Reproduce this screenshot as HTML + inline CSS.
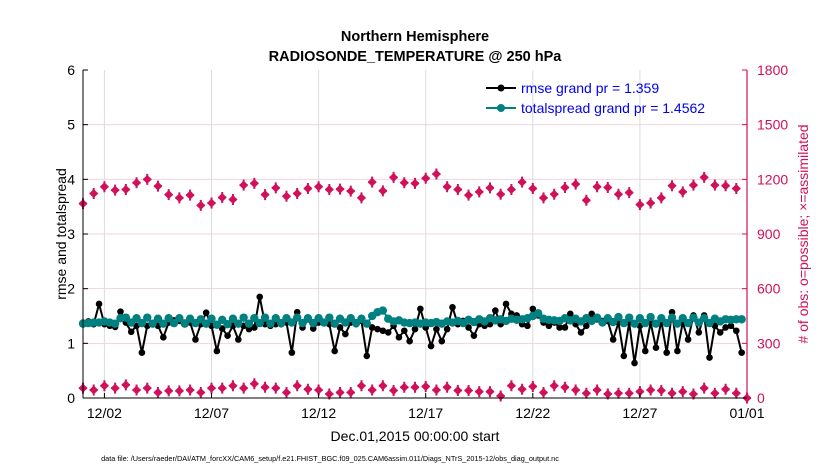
<!DOCTYPE html>
<html><head><meta charset="utf-8"><style>
body{margin:0;background:#fff;}
svg text{font-family:"Liberation Sans",Arial,sans-serif;}
</style></head><body>
<svg id="chart" width="830" height="470" xmlns="http://www.w3.org/2000/svg">
<rect width="830" height="470" fill="#fff"/>
<g id="grid"></g>
<g id="series"></g>
<g id="axes"></g>
<text x="415" y="41" text-anchor="middle" font-size="14.5" font-weight="bold">Northern Hemisphere</text>
<text x="415" y="61" text-anchor="middle" font-size="14.5" font-weight="bold">RADIOSONDE_TEMPERATURE @ 250 hPa</text>
<text x="415" y="441" text-anchor="middle" font-size="14">Dec.01,2015 00:00:00 start</text>
<text x="330" y="461" text-anchor="middle" font-size="7.3">data file: /Users/raeder/DAI/ATM_forcXX/CAM6_setup/f.e21.FHIST_BGC.f09_025.CAM6assim.011/Diags_NTrS_2015-12/obs_diag_output.nc</text>
<text transform="translate(66,234) rotate(-90)" text-anchor="middle" font-size="14">rmse and totalspread</text>
<text transform="translate(808,234) rotate(-90)" text-anchor="middle" font-size="14" fill="#d0105a"># of obs: o=possible; ×=assimilated</text>
<g id="legend">
<line x1="486" y1="88" x2="516" y2="88" stroke="#000" stroke-width="2"/>
<circle cx="501" cy="88" r="3.5" fill="#000"/>
<text x="521" y="93" font-size="14" fill="#0000ee">rmse grand pr = 1.359</text>
<line x1="486" y1="108" x2="516" y2="108" stroke="#008080" stroke-width="2"/>
<circle cx="501" cy="108" r="4" fill="#008080"/>
<text x="521" y="113" font-size="14" fill="#0000ee">totalspread grand pr = 1.4562</text>
</g>
</svg>
<script>
const xTickLabels=["12/02","12/07","12/12","12/17","12/22","12/27","01/01"];
const xTickDays=[1,6,11,16,21,26,31];
const leftTicks=[0,1,2,3,4,5,6];
const rightTicks=[0,300,600,900,1200,1500,1800];
const rmse=[1.38,1.40,1.35,1.72,1.35,1.32,1.30,1.58,1.38,1.21,1.32,0.83,1.32,1.35,1.32,1.11,1.38,1.42,1.41,1.38,1.38,1.07,1.35,1.56,1.32,0.86,1.27,1.14,1.32,1.07,
1.32,1.26,1.29,1.85,1.35,1.32,1.35,1.35,1.38,0.83,1.57,1.29,1.44,1.27,1.38,1.38,1.35,0.86,1.29,1.17,1.38,1.35,1.41,0.77,1.29,1.26,1.23,1.20,1.32,1.11,1.23,
1.04,1.26,1.63,1.29,0.95,1.26,1.04,1.26,1.66,1.35,1.41,1.29,1.14,1.35,1.32,1.35,1.60,1.35,1.72,1.54,1.51,1.35,1.32,1.63,1.51,1.38,1.32,1.38,1.29,1.29,1.54,1.35,
1.20,1.32,1.54,1.44,1.41,1.41,1.07,1.38,0.77,1.38,0.64,1.32,0.86,1.38,0.92,1.41,0.83,1.57,0.86,1.38,1.07,1.51,1.20,1.51,0.74,1.32,1.20,1.29,1.32,1.23,0.83];
const spread=[1.36,1.37,1.38,1.38,1.40,1.38,1.36,1.46,1.47,1.38,1.46,1.37,1.47,1.36,1.45,1.36,1.46,1.37,1.46,1.36,1.45,1.37,1.44,1.36,1.45,1.34,1.43,1.35,1.45,1.36,
1.47,1.36,1.46,1.37,1.47,1.36,1.46,1.37,1.46,1.38,1.47,1.37,1.46,1.37,1.46,1.38,1.47,1.36,1.45,1.38,1.46,1.37,1.45,1.36,1.50,1.57,1.60,1.45,1.40,1.42,1.38,
1.37,1.38,1.36,1.38,1.37,1.39,1.36,1.40,1.38,1.41,1.37,1.43,1.39,1.44,1.40,1.46,1.42,1.44,1.41,1.45,1.43,1.44,1.46,1.50,1.55,1.45,1.43,1.42,1.41,1.46,1.42,
1.45,1.40,1.46,1.41,1.47,1.38,1.46,1.39,1.48,1.37,1.47,1.36,1.46,1.37,1.48,1.36,1.46,1.37,1.47,1.36,1.46,1.37,1.47,1.38,1.46,1.37,1.45,1.40,1.44,1.43,1.44,1.44];
const possible=[1067,1122,1159,1141,1144,1181,1200,1163,1116,1098,1113,1057,1070,1100,1089,1168,1178,1116,1153,1107,1122,1150,1159,1144,1146,1135,1098,1185,1137,1211,1181,1178,
1206,1229,1159,1144,1113,1131,1153,1118,1144,1185,1150,1098,1118,1155,1174,1085,1159,1155,1118,1127,1061,1070,1098,1165,1131,1168,1211,1168,1165,1150];
const assimilated=[54,44,67,54,72,44,54,30,39,39,44,30,54,54,67,54,78,59,54,30,67,48,
44,22,30,30,67,44,67,41,59,59,63,44,59,41,41,35,35,11,67,48,63,
30,67,59,44,26,44,22,26,26,35,44,41,26,35,22,54,26,48,26,0];

const X0=83,X1=747,DAYS=31,Y0=398,Y1=70;
function xs(d){return X0+(d/DAYS)*(X1-X0);}
function yl(v){return Y0-(v/6)*(Y0-Y1);}
function yr(v){return Y0-(v/1800)*(Y0-Y1);}
const NS="http://www.w3.org/2000/svg";
function mk(tag,attrs,parent){const e=document.createElementNS(NS,tag);for(const k in attrs)e.setAttribute(k,attrs[k]);parent.appendChild(e);return e;}
const grid=document.getElementById('grid'),ser=document.getElementById('series'),ax=document.getElementById('axes');
const PINK="#d0105a";
leftTicks.forEach((v,i)=>{
  if(v>0&&v<6){const l=mk('line',{x1:X0,x2:X1,y1:yl(v),y2:yl(v),stroke:'#f3d2de','stroke-width':1},grid);
  
  }
  const t=mk('text',{x:X0-8,y:yl(v)+5,'text-anchor':'end','font-size':14},ax);t.textContent=v;
  
  
  mk('line',{x1:X0,x2:X0+5,y1:yl(v),y2:yl(v),stroke:'#000'},ax);
});
rightTicks.forEach(v=>{
  const t=mk('text',{x:X1+10,y:yr(v)+5,'font-size':14,fill:PINK},ax);t.textContent=v;
  
  
  mk('line',{x1:X1-5,x2:X1,y1:yr(v),y2:yr(v),stroke:PINK},ax);
});
xTickDays.forEach((d,i)=>{
  if(d<31){const l=mk('line',{x1:xs(d),x2:xs(d),y1:Y1,y2:Y0,stroke:'#dcdcdc','stroke-width':1},grid);
  
  }
  mk('line',{x1:xs(d),x2:xs(d),y1:Y0,y2:Y0-5,stroke:'#000'},ax);
  const t=mk('text',{x:xs(d),y:Y0+20,'text-anchor':'middle','font-size':14},ax);t.textContent=xTickLabels[i];
  
  
});
mk('line',{x1:X0,x2:X0,y1:Y1,y2:Y0,stroke:'#000','stroke-width':1},ax);
mk('line',{x1:X0,x2:X1,y1:Y0,y2:Y0,stroke:'#000','stroke-width':1},ax);
mk('line',{x1:X1,x2:X1,y1:Y1,y2:Y0,stroke:PINK,'stroke-width':1.2},ax);

function diamond(cx,cy,g){
  const p=mk('path',{d:`M${cx} ${cy-4.5}L${cx+4.5} ${cy}L${cx} ${cy+4.5}L${cx-4.5} ${cy}Z`,fill:PINK},g);
  mk('path',{d:`M${cx-4} ${cy}H${cx+4}M${cx} ${cy-5.5}V${cy+5.5}`,stroke:PINK,'stroke-width':2},g);
  return p;
}
const gp=mk('g',{},ser);


possible.forEach((v,i)=>{const p=diamond(xs(i*0.5),yr(v),gp);
  
  });
const ga=mk('g',{},ser);


assimilated.forEach((v,i)=>{const p=diamond(xs(i*0.5),yr(v),ga);
  
  });

function lineSeries(arr,color,r,name){
  const g=mk('g',{},ser);
  
  
  const pts=arr.map((v,i)=>xs(i*0.25)+','+yl(v)).join(' ');
  mk('polyline',{points:pts,fill:'none',stroke:color,'stroke-width':2},g);
  arr.forEach((v,i)=>{const c=mk('circle',{cx:xs(i*0.25),cy:yl(v),r:r,fill:color},g);
    
    });
}
lineSeries(rmse,'#000',3.3,'rmse-series');
lineSeries(spread,'#008080',4.2,'totalspread-series');
</script>
</body></html>
